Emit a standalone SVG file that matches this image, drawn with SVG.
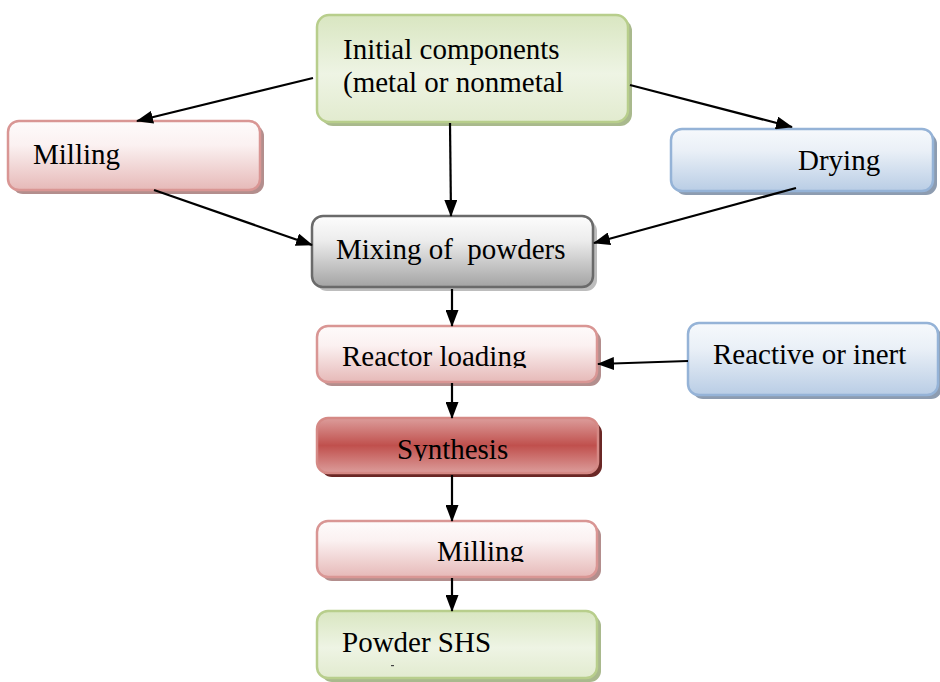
<svg xmlns="http://www.w3.org/2000/svg" width="940" height="682" viewBox="0 0 940 682">
  <defs>
    <linearGradient id="gGreen" x1="0" y1="0" x2="0" y2="1">
      <stop offset="0" stop-color="#d9e6c1"/>
      <stop offset="0.55" stop-color="#eef4e4"/>
      <stop offset="1" stop-color="#e2ebcf"/>
    </linearGradient>
    <linearGradient id="gPink" x1="0" y1="0" x2="0" y2="1">
      <stop offset="0" stop-color="#fefbfb"/>
      <stop offset="0.35" stop-color="#fbf1f1"/>
      <stop offset="1" stop-color="#e6b9b8"/>
    </linearGradient>
    <linearGradient id="gBlue" x1="0" y1="0" x2="0" y2="1">
      <stop offset="0" stop-color="#f6f9fc"/>
      <stop offset="0.35" stop-color="#eaf0f7"/>
      <stop offset="1" stop-color="#b9cde5"/>
    </linearGradient>
    <linearGradient id="gGray" x1="0" y1="0" x2="0" y2="1">
      <stop offset="0" stop-color="#fdfdfd"/>
      <stop offset="0.35" stop-color="#ececec"/>
      <stop offset="1" stop-color="#a3a3a3"/>
    </linearGradient>
    <linearGradient id="gRed" x1="0" y1="0" x2="0" y2="1">
      <stop offset="0" stop-color="#dc9d9b"/>
      <stop offset="0.5" stop-color="#c0504d"/>
      <stop offset="1" stop-color="#dc9d9b"/>
    </linearGradient>
    <marker id="arrow" viewBox="0 0 17 13" refX="16" refY="6.5" markerWidth="17" markerHeight="13" markerUnits="userSpaceOnUse" orient="auto">
      <path d="M0,0 L17,6.5 L0,13 z" fill="#000"/>
    </marker>
    <clipPath id="clipReactor"><rect x="317" y="326" width="280" height="42"/></clipPath>
    <clipPath id="clipSynth"><rect x="317" y="418" width="281" height="43"/></clipPath>
    <clipPath id="clipMill2"><rect x="317" y="521" width="280" height="41"/></clipPath>
  </defs>
  <style>
    .lbl { font-family: "Liberation Serif", "Times New Roman", serif; font-size: 29px; fill: #000; }
    .green { fill: url(#gGreen); stroke: #b8ce8c; stroke-width: 2.5; }
    .greenSh { fill: #a9b98d; }
    .pink { fill: url(#gPink); stroke: #d99694; stroke-width: 2.5; }
    .pinkSh { fill: #b38e8d; }
    .blue { fill: url(#gBlue); stroke: #95b3d7; stroke-width: 2.5; }
    .blueSh { fill: #8d9cb0; }
    .gray { fill: url(#gGray); stroke: #6a6a6a; stroke-width: 2.5; }
    .graySh { fill: #bdbdbd; }
    .red { fill: url(#gRed); stroke: #d58985; stroke-width: 2.5; }
    .redSh { fill: #6a2725; }
    .conn line { stroke: #000; stroke-width: 2.2; marker-end: url(#arrow); }
  </style>

  <rect width="940" height="682" fill="#fff"/>

  <!-- process steps -->
  <g id="initial">
    <rect class="greenSh" x="321" y="19" width="311" height="107" rx="12"/>
    <rect class="green" x="317" y="15" width="311" height="107" rx="12"/>
    <text class="lbl" x="343" y="59">Initial components</text>
    <text class="lbl" x="343" y="92">(metal or nonmetal</text>
  </g>

  <g id="milling-pre">
    <rect class="pinkSh" x="12" y="125" width="252" height="69" rx="11"/>
    <rect class="pink" x="8" y="121" width="252" height="69" rx="11"/>
    <text class="lbl" x="33" y="164">Milling</text>
  </g>

  <g id="drying">
    <rect class="blueSh" x="675" y="133" width="262" height="62" rx="11"/>
    <rect class="blue" x="671" y="129" width="262" height="62" rx="11"/>
    <text class="lbl" x="798" y="170">Drying</text>
  </g>

  <g id="mixing">
    <rect class="graySh" x="316" y="220" width="281" height="71" rx="11"/>
    <rect class="gray" x="312" y="216" width="281" height="71" rx="11"/>
    <text class="lbl" x="336" y="259" xml:space="preserve">Mixing of  powders</text>
  </g>

  <g id="reactor-loading">
    <rect class="pinkSh" x="321" y="330" width="280" height="56" rx="11"/>
    <rect class="pink" x="317" y="326" width="280" height="56" rx="11"/>
    <text class="lbl" x="342" y="366" clip-path="url(#clipReactor)">Reactor loading</text>
  </g>

  <g id="atmosphere">
    <rect class="blueSh" x="692" y="327" width="250" height="72" rx="11"/>
    <rect class="blue" x="688" y="323" width="250" height="72" rx="11"/>
    <text class="lbl" x="713" y="364">Reactive or inert</text>
  </g>

  <g id="synthesis">
    <rect class="redSh" x="321" y="422" width="281" height="55" rx="11"/>
    <rect class="red" x="317" y="418" width="281" height="55" rx="11"/>
    <text class="lbl" x="397" y="459" clip-path="url(#clipSynth)">Synthesis</text>
  </g>

  <g id="milling-post">
    <rect class="pinkSh" x="321" y="525" width="280" height="56" rx="11"/>
    <rect class="pink" x="317" y="521" width="280" height="56" rx="11"/>
    <text class="lbl" x="437" y="561" clip-path="url(#clipMill2)">Milling</text>
  </g>

  <g id="powder-shs">
    <rect class="greenSh" x="321" y="615" width="280" height="67" rx="11"/>
    <rect class="green" x="317" y="611" width="280" height="67" rx="11"/>
    <text class="lbl" x="342" y="652">Powder SHS</text>
    <rect x="391" y="665" width="3" height="1.2" fill="#444"/>
  </g>

  <!-- connectors -->
  <g id="connectors" class="conn">
    <line x1="313" y1="78" x2="137" y2="121"/>
    <line x1="630" y1="85" x2="792" y2="127"/>
    <line x1="450" y1="123" x2="451" y2="216"/>
    <line x1="154" y1="190" x2="312" y2="245"/>
    <line x1="796" y1="188" x2="594" y2="243"/>
    <line x1="452" y1="289" x2="452" y2="326"/>
    <line x1="688" y1="361" x2="598" y2="364"/>
    <line x1="452" y1="383" x2="452" y2="418"/>
    <line x1="452" y1="475" x2="452" y2="521"/>
    <line x1="452" y1="578" x2="452" y2="611"/>
  </g>
</svg>
